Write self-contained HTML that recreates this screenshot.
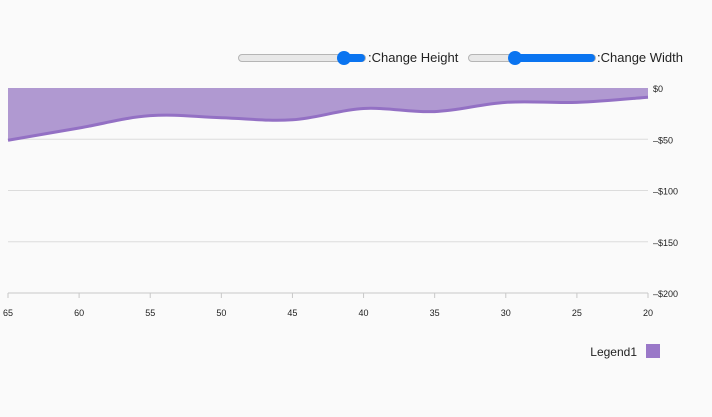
<!DOCTYPE html>
<html><head><meta charset="utf-8"><style>
body{margin:0;background:#fafafa;font-family:"Liberation Sans",sans-serif;}
#wrap{position:relative;width:712px;height:417px;overflow:hidden;background:#fafafa;}
.track{position:absolute;height:6px;border:1px solid #b5b5b5;border-radius:4px;background:#e8e8e8;}
.fill{position:absolute;height:8px;background:#0a74f0;border-radius:4px;}
.thumb{position:absolute;width:14px;height:14px;border-radius:50%;background:#0a74f0;}
.lbl{position:absolute;font-size:13px;color:#222;}
</style></head><body>
<div id="wrap">
<div class="track" style="left:238px;top:54px;width:126px"></div>
<div class="fill" style="left:344px;top:54px;width:21px"></div>
<div class="thumb" style="left:337px;top:51px"></div>
<div class="lbl" style="left:368px;top:50px">:Change Height</div>
<div class="track" style="left:468px;top:54px;width:126px"></div>
<div class="fill" style="left:515px;top:54px;width:80px"></div>
<div class="thumb" style="left:508px;top:51px"></div>
<div class="lbl" style="left:597px;top:50px">:Change Width</div>
<svg id="chart" width="712" height="417" style="position:absolute;left:0;top:0"></svg>
</div>
<script>
const categories=[65,60,55,50,45,40,35,30,25,20];
const values=[-51,-39,-27,-29,-31,-20,-23,-14,-14,-9];
const yTicks=[0,-50,-100,-150,-200];
const yLabels=["$0","-$50","-$100","-$150","-$200"];
const xTicks=[65,60,55,50,45,40,35,30,25,20];
const svg=document.getElementById('chart');
const NS='http://www.w3.org/2000/svg';
const x0=8,x1=648,y0=88,y1=293;
const xs=v=>x0+(65-v)/(65-20)*(x1-x0);
const ys=v=>y0+(0-v)/200*(y1-y0);
function mk(t,a,name){const e=document.createElementNS(NS,t);for(const k in a)e.setAttribute(k,a[k]);


svg.appendChild(e);return e;}
yTicks.forEach((t,i)=>{
 if(t!==0)mk('line',{x1:x0,x2:x1,y1:ys(t),y2:ys(t),stroke:t===-200?'#c8c8c8':'#dcdcdc','stroke-width':1},'gridline');
 const tx=mk('text',{x:x1+5,y:ys(t)+4,'font-size':9,fill:'#222'},'y-tick-label');tx.textContent=(i?'\u2013':'')+yLabels[i].replace('-','');
});
xTicks.forEach(t=>{
 mk('line',{x1:xs(t),x2:xs(t),y1:y1,y2:y1+5,stroke:'#c8c8c8'},'x-tick');
 const tx=mk('text',{x:xs(t),y:y1+23,'font-size':9,fill:'#222','text-anchor':'middle'},'x-tick-label');tx.textContent=t;
});
const pts=categories.map((c,i)=>[xs(c),ys(values[i])]);
let d='M'+pts[0][0]+','+pts[0][1];
for(let i=0;i<pts.length-1;i++){
 const p0=pts[Math.max(0,i-1)],p1=pts[i],p2=pts[i+1],p3=pts[Math.min(pts.length-1,i+2)];
 const t=0.18;
 d+=' C'+(p1[0]+(p2[0]-p0[0])*t)+','+(p1[1]+(p2[1]-p0[1])*t)+' '+(p2[0]-(p3[0]-p1[0])*t)+','+(p2[1]-(p3[1]-p1[1])*t)+' '+p2[0]+','+p2[1];
}
mk('path',{d:d+' L'+x1+','+ys(0)+' L'+x0+','+ys(0)+'Z',fill:'#b099d1'},'area-series');
mk('path',{d:d,fill:'none',stroke:'#9370c4','stroke-width':3},'series-line');
const lt=mk('text',{x:637,y:356,'font-size':12,fill:'#222','text-anchor':'end'},'legend-label');lt.textContent='Legend1';
mk('rect',{x:646,y:344,width:14,height:14,fill:'#9a78c8'},'legend-swatch');
</script>
</body></html>
